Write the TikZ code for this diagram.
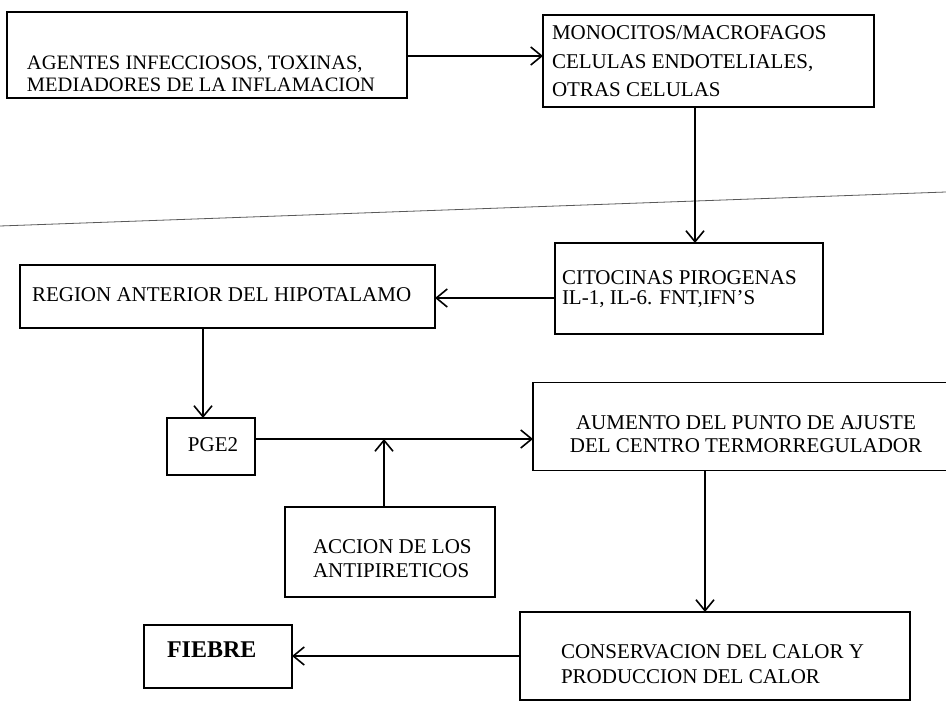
\documentclass[tikz,border=0pt]{standalone}
\usepackage{fontspec}
\setmainfont{Liberation Serif}
\usetikzlibrary{arrows.meta,calc}
\begin{document}
\begin{tikzpicture}[x=1pt,y=-1pt,
  box/.style={draw,line width=1.7pt,inner sep=0pt,outer sep=0pt},
  txt/.style={inner sep=0pt,outer sep=0pt,anchor=base west,font=\fontsize{21}{23}\selectfont},
  txtc/.style={inner sep=0pt,outer sep=0pt,anchor=base,font=\fontsize{21}{23}\selectfont},
  arr/.style={line width=1.7pt,-{Straight Barb[length=11pt,width=18pt,line width=1.6pt]}},
  conn/.style={line width=1.7pt}]
\useasboundingbox (0,0) rectangle (946,703);
\fill[white] (0,0) rectangle (946,703);
% scan line
\draw[line width=0.8pt,black!65] (0,226) -- (946,192);
% boxes
\node[box,minimum width=400pt,minimum height=86pt] (agentes) at (207,55) {};
\node[box,minimum width=331pt,minimum height=92pt] (mono) at (708.5,61) {};
\node[box,minimum width=268pt,minimum height=91pt] (cito) at (689,288.5) {};
\node[box,minimum width=415pt,minimum height=63pt] (region) at (227.5,296.5) {};
\node[box,minimum width=88pt,minimum height=57pt] (pge) at (211,446.5) {};
\node[box,minimum width=437pt,minimum height=88pt] (aumento) at (751.5,426.5) {};
\node[box,minimum width=210pt,minimum height=90pt] (accion) at (390,552) {};
\node[box,minimum width=390pt,minimum height=88pt] (conserv) at (715,656) {};
\node[box,minimum width=148pt,minimum height=63pt] (fiebre) at (218,656.5) {};
% texts
\node[txt,font=\fontsize{20.5}{22}\selectfont] (t1a) at (27,70) {AGENTES INFECCIOSOS, TOXINAS,};
\node[txt,font=\fontsize{20.5}{22}\selectfont] (t1b) at (27,92) {MEDIADORES DE LA INFLAMACION};
\node[txt] (t2a) at (552,40) {MONOCITOS/MACROFAGOS};
\node[txt] (t2b) at (552,69) {CELULAS ENDOTELIALES,};
\node[txt] (t2c) at (552,97) {OTRAS CELULAS};
\node[txt] (t3a) at (562,285) {CITOCINAS PIROGENAS};
\node[txt] (t3b) at (562,305) {IL-1, IL-6. FNT,IFN’S};
\node[txt] (t4) at (32,302) {REGION ANTERIOR DEL HIPOTALAMO};
\node[txtc] (t5) at (213,452) {PGE2};
\node[txtc] (t6a) at (746,430) {AUMENTO DEL PUNTO DE AJUSTE};
\node[txtc] (t6b) at (746,453) {DEL CENTRO TERMORREGULADOR};
\node[txt] (t7a) at (313,553) {ACCION DE LOS};
\node[txt] (t7b) at (313,577) {ANTIPIRETICOS};
\node[txt] (t8a) at (561,658) {CONSERVACION DEL CALOR Y};
\node[txt] (t8b) at (561,683) {PRODUCCION DEL CALOR};
\node[txt,font=\fontsize{24}{26}\selectfont\bfseries] (t9) at (167,657) {FIEBRE};
% connectors
\coordinate (j) at (384,439);
\draw[arr] (agentes.east |- 0,56) -- (mono.west |- 0,56);
\draw[arr] (mono.south -| 695,0) -- (cito.north -| 695,0);
\draw[arr] (cito.west |- 0,298) -- (region.east |- 0,298);
\draw[arr] (region.south -| 203,0) -- (pge.north -| 203,0);
\draw[arr] (pge.east |- 0,439) -- (aumento.west |- 0,439);
\draw[arr] (accion.north -| j) -- (j);
\draw[arr] (aumento.south -| 705,0) -- (conserv.north -| 705,0);
\draw[arr] (conserv.west |- 0,656) -- (fiebre.east |- 0,656);
\end{tikzpicture}
\end{document}
